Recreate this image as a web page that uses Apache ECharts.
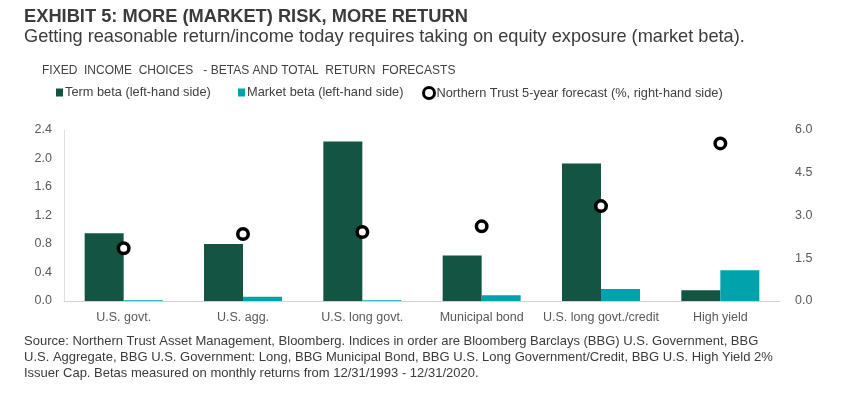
<!DOCTYPE html>
<html><head><meta charset="utf-8">
<script src="https://cdn.jsdelivr.net/npm/echarts@6/dist/echarts.min.js"></script>
<style>html,body{margin:0;padding:0;background:#fff}#c{width:861px;height:393px}</style>
</head><body><div id="c"></div>
<script>
const categories = ['U.S. govt.', 'U.S. agg.', 'U.S. long govt.', 'Municipal bond', 'U.S. long govt./credit', 'High yield'];
const termBeta = [0.95, 0.80, 2.24, 0.64, 1.93, 0.15];
const marketBeta = [0.01, 0.06, 0.01, 0.08, 0.17, 0.43];
const forecast = [1.85, 2.35, 2.42, 2.62, 3.33, 5.53];
const leftTicks = [0, 0.4, 0.8, 1.2, 1.6, 2.0, 2.4];
const rightTicks = [0, 1.5, 3.0, 4.5, 6.0];
const seriesNames = ['Term beta (left-hand side)', 'Market beta (left-hand side)', 'Northern Trust 5-year forecast (%, right-hand side)'];

const F = 'Liberation Sans, Arial, sans-serif';
const legendText = {fontFamily: F, fontSize: 12.8, color: '#404040', padding: [0, 0, 0, -3]};
const chart = echarts.init(document.getElementById('c'), null, {renderer: 'canvas'});
chart.setOption({
  animation: false,
  textStyle: {fontFamily: F},
  title: [
    {text: 'EXHIBIT 5: MORE (MARKET) RISK, MORE RETURN', left: 24, top: 8, padding: 0,
     textStyle: {fontFamily: F, fontSize: 18.3, fontWeight: 'bold', color: '#3b3b3b'}},
    {text: 'Getting reasonable return/income today requires taking on equity exposure (market beta).', left: 24, top: 28, padding: 0,
     textStyle: {fontFamily: F, fontSize: 18.2, fontWeight: 'normal', color: '#3b3b3b'}},
    {text: 'FIXED  INCOME  CHOICES   - BETAS AND TOTAL  RETURN  FORECASTS', left: 42, top: 65, padding: 0,
     textStyle: {fontFamily: F, fontSize: 12, fontWeight: 'normal', color: '#404040'}},
    {text: 'Source: Northern Trust Asset Management, Bloomberg. Indices in order are Bloomberg Barclays (BBG) U.S. Government, BBG\nU.S. Aggregate, BBG U.S. Government: Long, BBG Municipal Bond, BBG U.S. Long Government/Credit, BBG U.S. High Yield 2%\nIssuer Cap. Betas measured on monthly returns from 12/31/1993 - 12/31/2020.',
     left: 24, top: 333, padding: 0,
     textStyle: {fontFamily: F, fontSize: 13, fontWeight: 'normal', color: '#3b3b3b', lineHeight: 16}}
  ],
  legend: [
    {left: 56, top: 86, padding: 0, itemWidth: 7, itemHeight: 8, textStyle: legendText,
     data: [{name: seriesNames[0], icon: 'rect'}]},
    {left: 238, top: 86, padding: 0, itemWidth: 7, itemHeight: 8, textStyle: legendText,
     data: [{name: seriesNames[1], icon: 'rect'}]},
    {left: 422, top: 86, padding: 0, itemWidth: 11, itemHeight: 11, textStyle: legendText,
     data: [{name: seriesNames[2], icon: 'circle', itemStyle: {color: '#fff', borderColor: '#000', borderWidth: 3, opacity: 1}}]}
  ],
  grid: {left: 64, right: 81, top: 130, bottom: 92},
  xAxis: {
    type: 'category', data: categories,
    axisLine: {lineStyle: {color: '#d0d0d0', width: 1}},
    axisTick: {show: false},
    axisLabel: {fontFamily: F, fontSize: 12.5, color: '#595959', margin: 10, interval: 0}
  },
  yAxis: [
    {type: 'value', min: 0, max: 2.4, interval: 0.4,
     axisLine: {show: true, lineStyle: {color: '#e0e0e0'}},
     axisTick: {show: false}, splitLine: {show: false},
     axisLabel: {fontFamily: F, fontSize: 12.5, color: '#595959', margin: 12,
       formatter: v => leftTicks.includes(+v.toFixed(1)) ? v.toFixed(1) : ''}},
    {type: 'value', min: 0, max: 6, interval: 1.5,
     axisLine: {show: false}, axisTick: {show: false}, splitLine: {show: false},
     axisLabel: {fontFamily: F, fontSize: 12.5, color: '#595959', margin: 15,
       formatter: v => rightTicks.includes(+v.toFixed(1)) ? v.toFixed(1) : ''}}
  ],
  series: [
    {name: seriesNames[0], type: 'bar', data: termBeta, yAxisIndex: 0,
     barWidth: 39, barGap: '0%', itemStyle: {color: '#135443'}},
    {name: seriesNames[1], type: 'bar', data: marketBeta, yAxisIndex: 0,
     barWidth: 39, barGap: '0%', itemStyle: {color: '#00a3ab'}},
    {name: seriesNames[2], type: 'scatter', data: forecast, yAxisIndex: 1,
     symbol: 'circle', symbolSize: 10.5,
     itemStyle: {color: '#fff', borderColor: '#000', borderWidth: 3.5, opacity: 1}}
  ]
});
</script></body></html>
